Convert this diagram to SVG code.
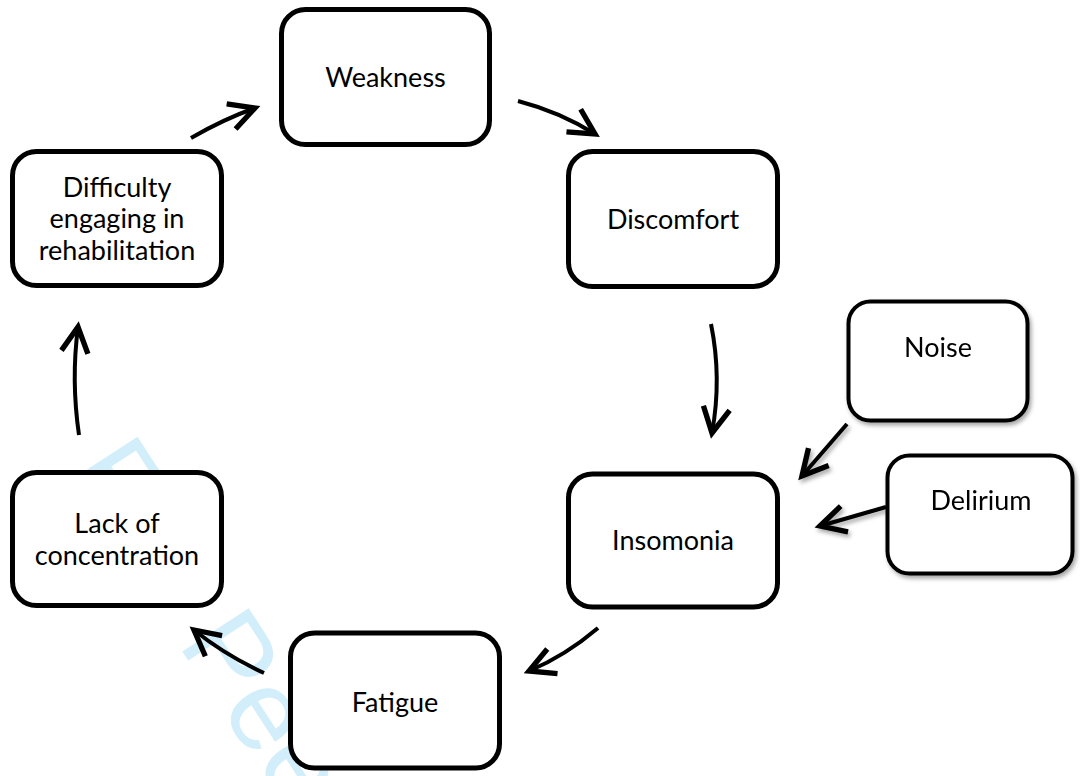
<svg xmlns="http://www.w3.org/2000/svg" width="1080" height="776" viewBox="0 0 1080 776">
  <defs>
    <style>
      .box { fill: #ffffff; stroke: #000000; stroke-width: 5; }
      .sbox { fill: #ffffff; stroke: #000000; stroke-width: 4; }
      .lbl { font-family: Lato, "Liberation Sans", sans-serif; font-size: 27px; fill: #000000; text-anchor: middle; }
      .conn { fill: none; stroke: #000000; stroke-width: 4; stroke-linecap: butt; marker-end: url(#arr); }
      .wm { font-family: "Liberation Sans", Arial, sans-serif; font-size: 115px; fill: #d2eefb; }
    </style>
    <marker id="arr" markerUnits="userSpaceOnUse" markerWidth="40" markerHeight="40" viewBox="-25 -15 30 30" refX="0" refY="0" orient="auto" overflow="visible">
      <path d="M-19,-10 L0,0 L-19,10" fill="none" stroke="#000000" stroke-width="4" stroke-linejoin="miter" stroke-linecap="butt"/>
    </marker>
    <filter id="shadow" x="-20%" y="-20%" width="150%" height="150%">
      <feDropShadow dx="2" dy="3" stdDeviation="2" flood-color="#000000" flood-opacity="0.35"/>
    </filter>
  </defs>

  <rect width="1080" height="776" fill="#ffffff"/>

  <text class="wm" transform="translate(66,472) rotate(57)">For Peer Review</text>

  <g id="connectors">
    <path class="conn" d="M191,138 Q224,119 255,108"/>
    <path class="conn" d="M518,101 Q560,112 595,134"/>
    <path class="conn" d="M711,324 Q722,378 712,433"/>
    <path class="conn" d="M598,628 Q565,656 529,671"/>
    <path class="conn" d="M264,673 Q225,655 194,630"/>
    <path class="conn" d="M79,435 Q71,380 78,327"/>
    <g filter="url(#shadow)">
      <path class="conn" d="M847,424 L802,476"/>
      <path class="conn" d="M886,507 L820,526"/>
    </g>
  </g>

  <g id="weakness">
    <rect class="box" x="281.5" y="9.5" width="208" height="135" rx="24"/>
    <text class="lbl" x="385.5" y="87">Weakness</text>
  </g>
  <g id="discomfort">
    <rect class="box" x="568.5" y="151.5" width="209" height="135" rx="24"/>
    <text class="lbl" x="673" y="229">Discomfort</text>
  </g>
  <g id="insomonia">
    <rect class="box" x="568.5" y="474" width="209" height="133" rx="24"/>
    <text class="lbl" x="673" y="550">Insomonia</text>
  </g>
  <g id="fatigue">
    <rect class="box" x="290.5" y="633" width="209" height="135" rx="24"/>
    <text class="lbl" x="395" y="712">Fatigue</text>
  </g>
  <g id="lack-of-concentration">
    <rect class="box" x="12.5" y="472.5" width="209" height="133" rx="24"/>
    <text class="lbl" x="117" y="533">Lack of</text>
    <text class="lbl" x="117" y="565">concentration</text>
  </g>
  <g id="difficulty-engaging">
    <rect class="box" x="12.5" y="151.5" width="209" height="134" rx="24"/>
    <text class="lbl" x="117" y="197">Difficulty</text>
    <text class="lbl" x="117" y="228">engaging in</text>
    <text class="lbl" x="117" y="260">rehabilitation</text>
  </g>
  <g id="noise" filter="url(#shadow)">
    <rect class="sbox" x="848.5" y="301.5" width="179" height="119" rx="22"/>
    <text class="lbl" x="938" y="357">Noise</text>
  </g>
  <g id="delirium" filter="url(#shadow)">
    <rect class="sbox" x="887.5" y="455.5" width="185" height="118" rx="22"/>
    <text class="lbl" x="981" y="510">Delirium</text>
  </g>
</svg>
